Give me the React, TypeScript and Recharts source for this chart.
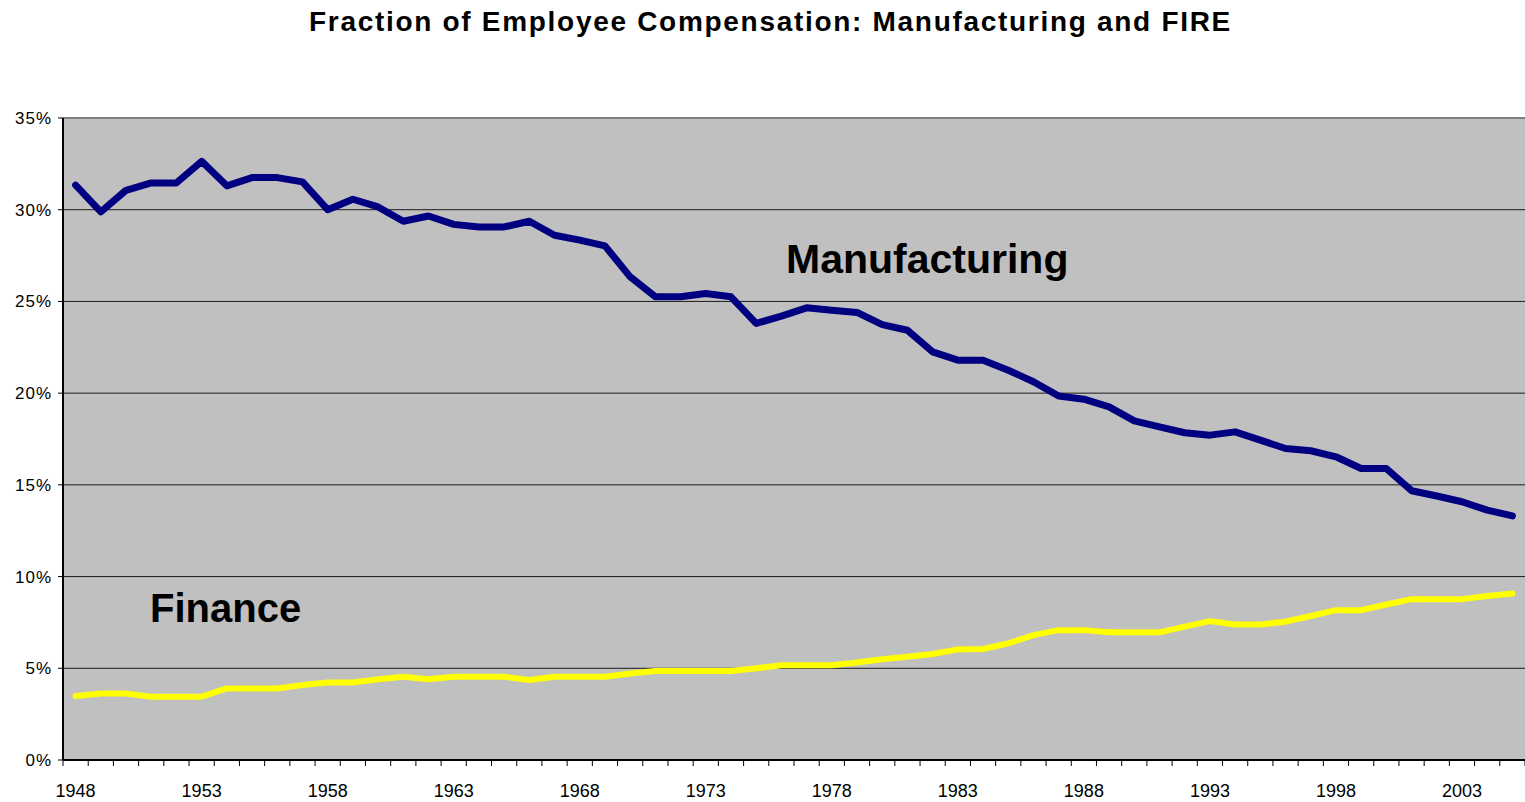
import React from 'react';
import {
  LineChart,
  Line,
  XAxis,
  YAxis,
  CartesianGrid,
  ReferenceLine,
} from 'recharts';

// years on the category axis
const years = [
  1948, 1949, 1950, 1951, 1952, 1953, 1954, 1955, 1956, 1957,
  1958, 1959, 1960, 1961, 1962, 1963, 1964, 1965, 1966, 1967,
  1968, 1969, 1970, 1971, 1972, 1973, 1974, 1975, 1976, 1977,
  1978, 1979, 1980, 1981, 1982, 1983, 1984, 1985, 1986, 1987,
  1988, 1989, 1990, 1991, 1992, 1993, 1994, 1995, 1996, 1997,
  1998, 1999, 2000, 2001, 2002, 2003, 2004, 2005,
];

// share of employee compensation, percent
const manufacturing = [
  31.34, 29.88, 31.06, 31.46, 31.46, 32.64, 31.3, 31.75, 31.75, 31.52,
  30.0, 30.57, 30.15, 29.37, 29.66, 29.2, 29.06, 29.06, 29.37, 28.61,
  28.34, 28.03, 26.34, 25.25, 25.25, 25.43, 25.25, 23.8, 24.2, 24.65,
  24.52, 24.4, 23.74, 23.43, 22.25, 21.8, 21.8, 21.25, 20.62, 19.84,
  19.67, 19.25, 18.49, 18.16, 17.84, 17.71, 17.89, 17.44, 16.98, 16.86,
  16.53, 15.89, 15.89, 14.68, 14.39, 14.08, 13.62, 13.31,
];

const finance = [
  3.49, 3.63, 3.63, 3.45, 3.45, 3.45, 3.9, 3.9, 3.9, 4.09,
  4.23, 4.23, 4.4, 4.54, 4.4, 4.54, 4.54, 4.54, 4.36, 4.54,
  4.54, 4.54, 4.72, 4.85, 4.85, 4.85, 4.85, 5.0, 5.16, 5.16,
  5.16, 5.32, 5.49, 5.63, 5.78, 6.03, 6.05, 6.36, 6.81, 7.08,
  7.08, 6.96, 6.96, 6.96, 7.27, 7.57, 7.39, 7.39, 7.54, 7.85,
  8.17, 8.17, 8.48, 8.77, 8.77, 8.77, 8.94, 9.08,
];

const yearLabels = [1948, 1953, 1958, 1963, 1968, 1973, 1978, 1983, 1988, 1993, 1998, 2003];
const pctTicks = [0, 5, 10, 15, 20, 25, 30, 35];

const data = years.map((year, i) => ({
  year,
  manufacturing: manufacturing[i],
  finance: finance[i],
}));

// tick marks sit between the years, like a category axis
const boundaries = years.map((y) => y - 0.5).concat(years[years.length - 1] + 0.5);
const domain = [boundaries[0], boundaries[boundaries.length - 1]];

const FONT = '"Liberation Sans", Arial, sans-serif';
const tickStyle = { fontSize: 18, fill: '#000', fontFamily: FONT };

// label drawn in the middle of the band that starts at this tick
const YearTick = (props: any) => {
  const { x, y, payload, width } = props;
  const year = payload.value + 0.5;
  if (!yearLabels.includes(year)) return <g />;
  const half = (width || 1461) / (boundaries.length - 1) / 2;
  return (
    <text
      x={x + half}
      y={y}
      dy="0.71em"
      textAnchor="middle"
      fontSize={18}
      fill="#000"
      fontFamily={FONT}
    >
      {year}
    </text>
  );
};

const App = () => {
  return (
    <div
      style={{
        position: 'absolute',
        left: 0,
        top: 0,
        width: 1525,
        height: 802,
        background: '#fff',
        fontFamily: FONT,
      }}
    >
      <div
        style={{
          position: 'absolute',
          left: 309,
          top: 8,
          fontSize: 28,
          lineHeight: 1,
          fontWeight: 'bold',
          letterSpacing: 1.7,
          whiteSpace: 'nowrap',
        }}
      >
        Fraction of Employee Compensation: Manufacturing and FIRE
      </div>
      <LineChart
        width={1525}
        height={802}
        data={data}
        margin={{ top: 118, right: 0, bottom: 0, left: 0 }}
      >
        <CartesianGrid
          vertical={false}
          fill="#c0c0c0"
          fillOpacity={1}
          stroke="#1a1a1a"
          horizontalValues={pctTicks}
        />
        <XAxis
          dataKey="year"
          type="number"
          domain={domain}
          ticks={boundaries}
          interval={0}
          tick={YearTick}
          tickSize={6}
          tickMargin={18}
          height={42}
          axisLine={{ stroke: '#000', strokeWidth: 2 }}
          tickLine={{ stroke: '#000', strokeWidth: 1 }}
        />
        <YAxis
          domain={[0, 35]}
          ticks={pctTicks}
          interval={0}
          width={63}
          tickSize={5}
          tickMargin={6}
          tickFormatter={(v) => `${v}%`}
          tick={{ ...tickStyle, fontSize: 17, letterSpacing: 1 }}
          axisLine={{ stroke: '#000', strokeWidth: 2 }}
          tickLine={{ stroke: '#000' }}
        />
        <ReferenceLine y={35} stroke="#808080" strokeWidth={2} />
        <Line
          type="linear"
          dataKey="finance"
          stroke="#ffff00"
          strokeWidth={6}
          strokeLinecap="round"
          strokeLinejoin="round"
          dot={false}
          activeDot={false}
          isAnimationActive={false}
        />
        <Line
          type="linear"
          dataKey="manufacturing"
          stroke="#000080"
          strokeWidth={7}
          strokeLinecap="round"
          strokeLinejoin="round"
          dot={false}
          activeDot={false}
          isAnimationActive={false}
        />
      </LineChart>
      <div
        style={{
          position: 'absolute',
          left: 786,
          top: 239,
          fontSize: 41,
          lineHeight: 1,
          fontWeight: 'bold',
          whiteSpace: 'nowrap',
        }}
      >
        Manufacturing
      </div>
      <div
        style={{
          position: 'absolute',
          left: 150,
          top: 588,
          fontSize: 40,
          lineHeight: 1,
          fontWeight: 'bold',
          whiteSpace: 'nowrap',
        }}
      >
        Finance
      </div>
    </div>
  );
};

export default App;
